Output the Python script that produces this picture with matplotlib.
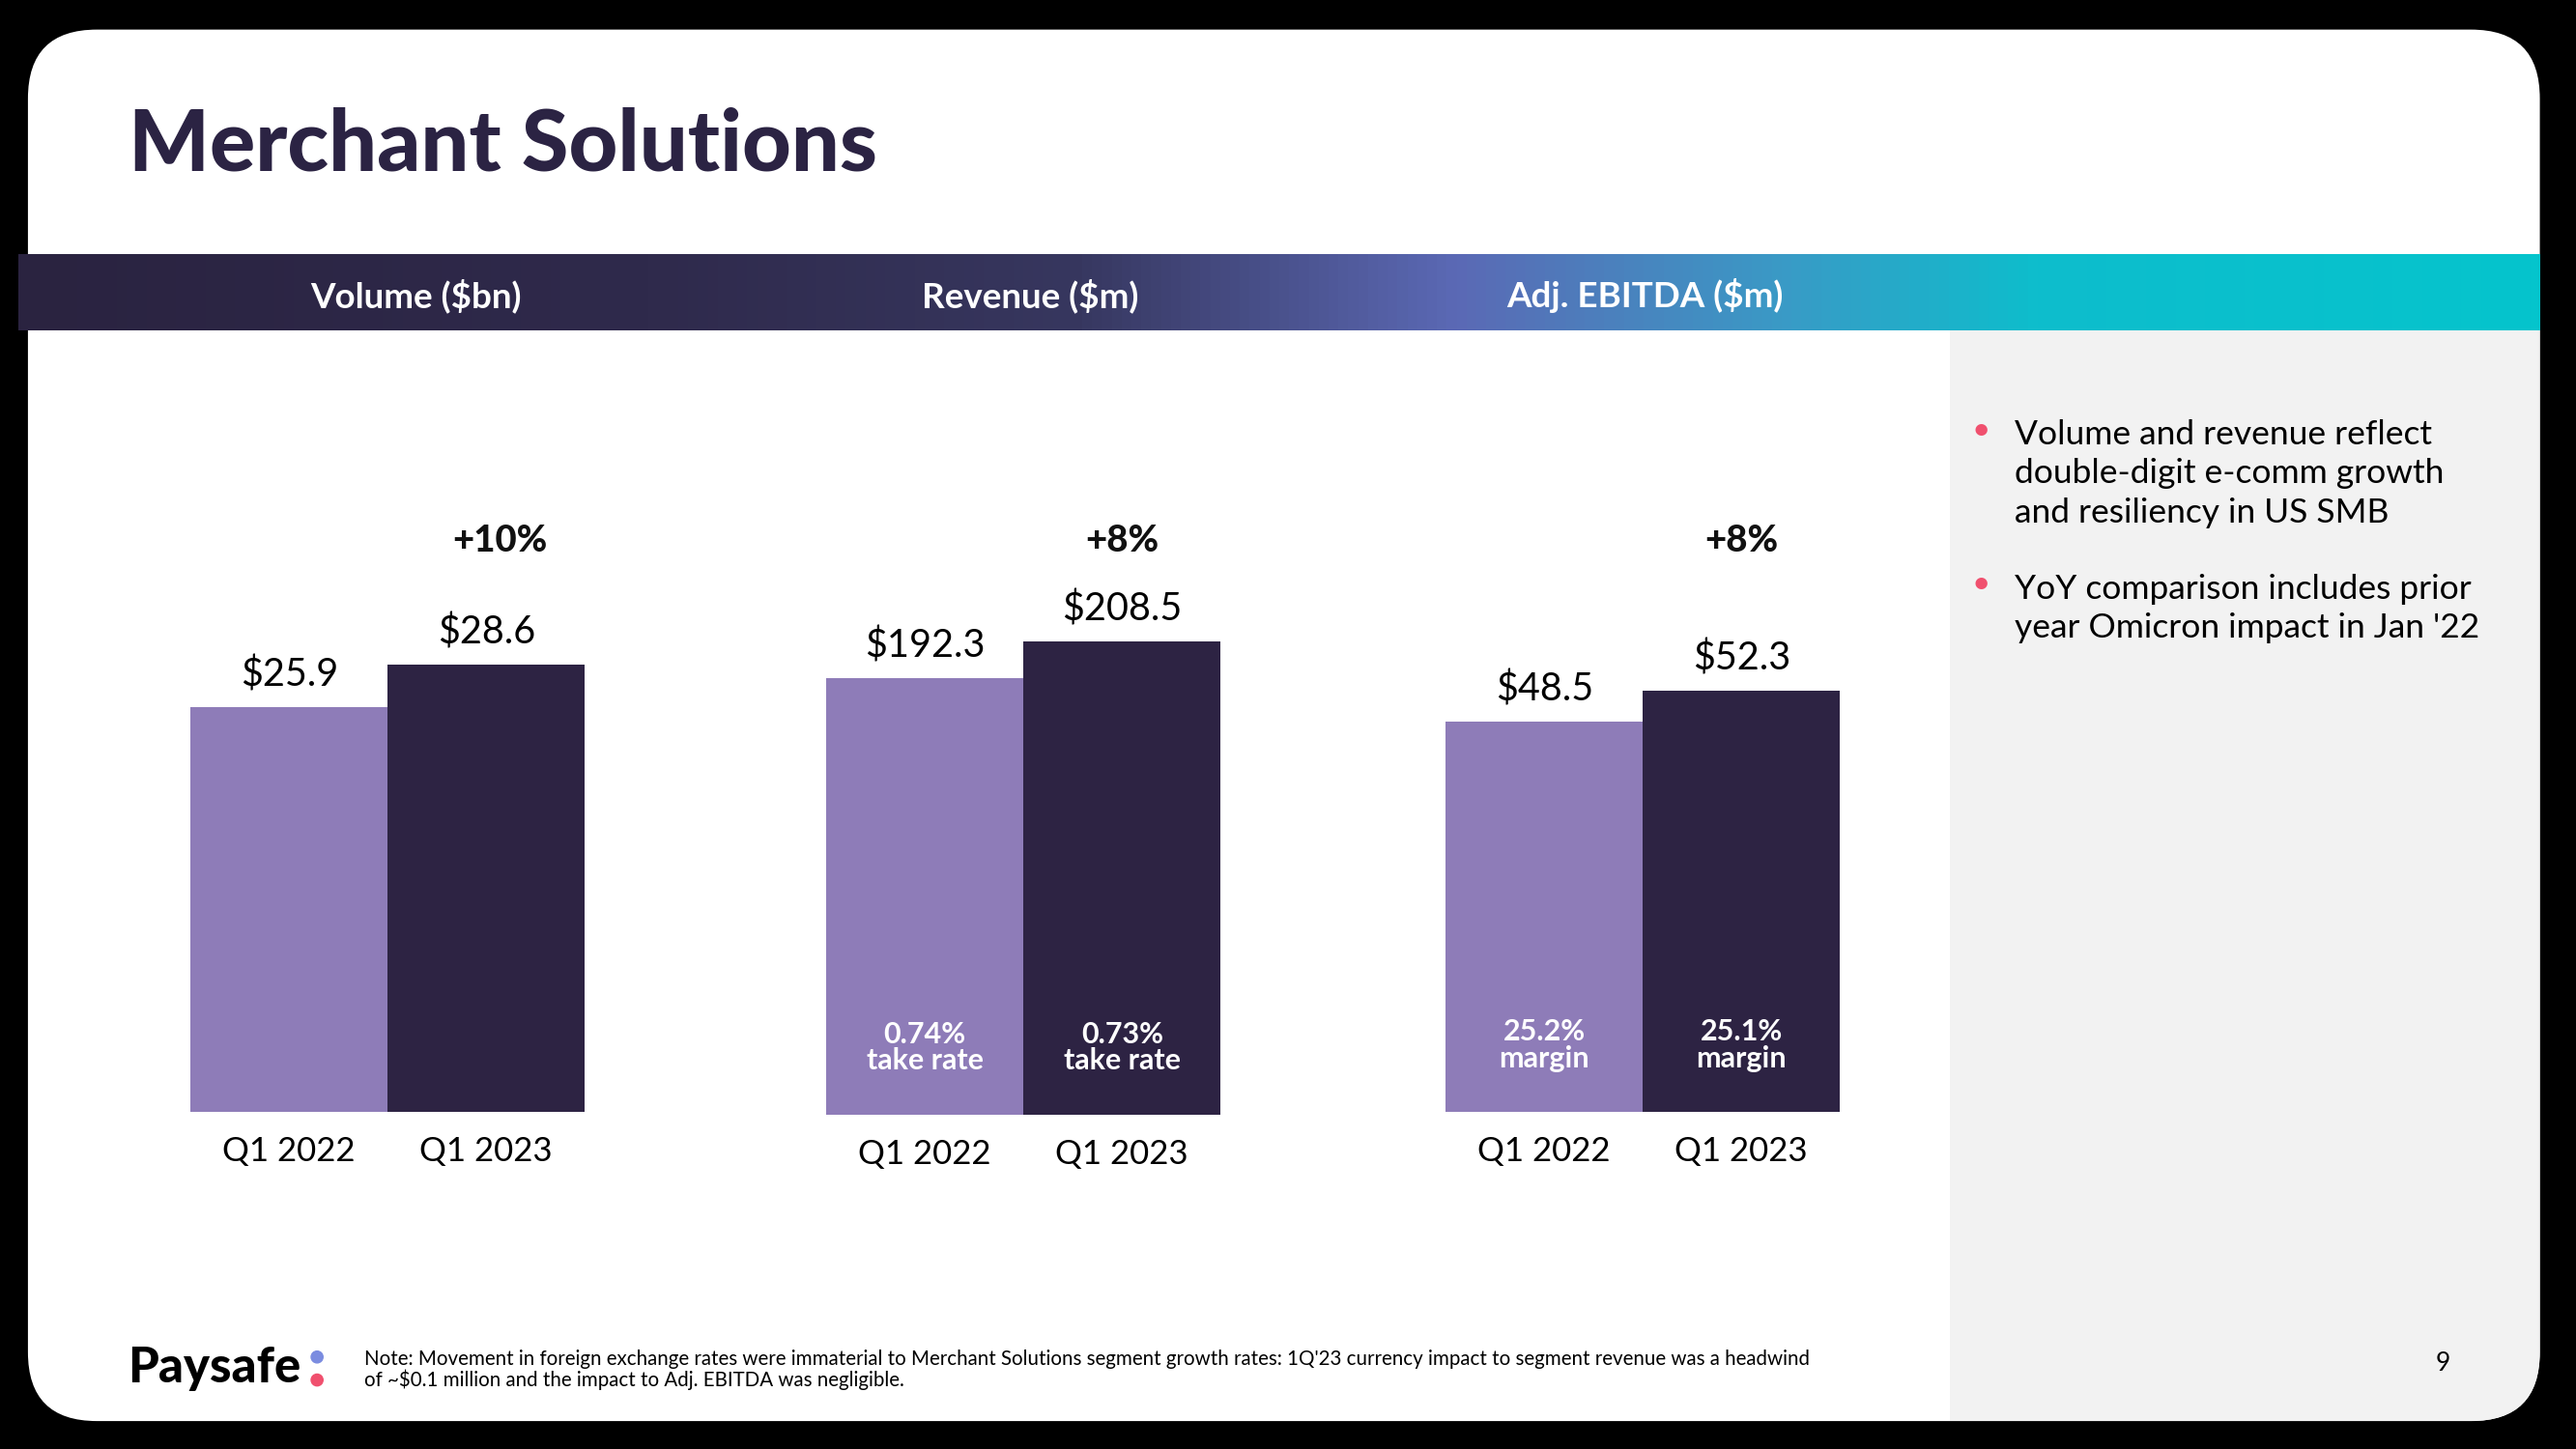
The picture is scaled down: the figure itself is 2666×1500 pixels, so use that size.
import matplotlib
matplotlib.use("Agg")
import matplotlib.pyplot as plt
import matplotlib.patches as mpatches
import matplotlib.transforms as mtransforms
from matplotlib.colors import LinearSegmentedColormap
import numpy as np

#===[ DATA ]===================================================================#
categorias = ["Q1 2022", "Q1 2023"]
volume = [25.9, 28.6]
receita = [192.3, 208.5]
ebitda = [48.5, 52.3]
crescimento = ["+10%", "+8%", "+8%"]
titulos_paineis = ["Volume ($bn)", "Revenue ($m)", "Adj. EBITDA ($m)"]
rotulos_receita = ["0.74%\ntake rate", "0.73%\ntake rate"]
rotulos_ebitda = ["25.2%\nmargin", "25.1%\nmargin"]
bullets = [
    "Volume and revenue reflect\ndouble-digit e-comm growth\nand resiliency in US SMB",
    "YoY comparison includes prior\nyear Omicron impact in Jan '22",
]
nota = ("Note: Movement in foreign exchange rates were immaterial to Merchant Solutions segment growth rates: "
        "1Q'23 currency impact to segment revenue was a headwind\n"
        "of ~$0.1 million and the impact to Adj. EBITDA was negligible.")

#===[ STYLE ]==================================================================#
W, H = 1568, 882          # layout grid (reference px)
ESCURO = "#2d2343"
CLARO = "#8e7cb8"
ROSA = "#f0506e"
CINZA = "#f2f2f2"
FONTE = "Lato"

plt.rcParams['font.family'] = [FONTE, 'DejaVu Sans']

fig = plt.figure(figsize=(26.66, 15), dpi=100, facecolor="black")

# background axes in reference pixel coordinates
bg = fig.add_axes([0, 0, 1, 1])
bg.set_xlim(0, W)
bg.set_ylim(H, 0)
bg.axis("off")

card = mpatches.FancyBboxPatch((17, 18), 1546 - 17, 865 - 18,
                               boxstyle="round,pad=0,rounding_size=42",
                               facecolor="white", edgecolor="none", zorder=0)
bg.add_patch(card)

painel = mpatches.Rectangle((1187, 201), 1546 - 1187, 865 - 201,
                            facecolor=CINZA, edgecolor="none", zorder=1)
bg.add_patch(painel)
painel.set_clip_path(card)

# gradient header band
cmap = LinearSegmentedColormap.from_list("faixa", [
    (0.0, "#2a2340"), (0.25, "#2f2a4c"), (0.42, "#37375f"),
    (0.57, "#5b69b5"), (0.70, "#3a9ac6"), (0.80, "#0ebdcc"), (1.0, "#05c4cc")])
grad = np.linspace(0, 1, 512).reshape(1, -1)
bg.imshow(grad, cmap=cmap, aspect="auto", extent=(11, 1546, 201, 155), zorder=2)
bg.set_xlim(0, W)
bg.set_ylim(H, 0)

for txt, cx in zip(titulos_paineis, [253, 627, 1001]):
    bg.text(cx, 180, txt, color="white", fontsize=26.5, fontweight="bold",
            ha="center", va="center", zorder=3)

bg.text(78, 89, "Merchant Solutions", color="#2b2343", fontsize=63.5,
        fontweight="black", ha="left", va="center", zorder=3)

# bullets
for txt, y in zip(bullets, [263, 357]):
    bg.text(1206, y - 1, "\u2022", color=ROSA, fontsize=24, ha="center", va="center", zorder=3)
    bg.text(1226, y - 8, txt, color="black", fontsize=25.5, ha="left", va="top",
            linespacing=1.33, zorder=3)

# footer
bg.text(78, 833, "Paysafe", color="black", fontsize=36.5, fontweight="black",
        ha="left", va="center", zorder=3)
bg.add_patch(mpatches.Circle((193, 826), 3.6, color="#7b8ce0", zorder=3))
bg.add_patch(mpatches.Circle((193, 840), 3.6, color=ROSA, zorder=3))
bg.text(222, 834, nota, color="black", fontsize=14.8, ha="left", va="center",
        linespacing=1.02, zorder=3)
bg.text(1487, 830, "9", color="black", fontsize=19, ha="center", va="center", zorder=3)

#===[ BARS ]===================================================================#
def eixo(x0, x1, ybase, ytop):
    return fig.add_axes([x0 / W, 1 - ybase / H, (x1 - x0) / W, (ybase - ytop) / H])

def barras(ax, valores, ymax, rotulos_dentro, cresc, dx=0.0):
    ax.set_facecolor("none")
    ax.bar(range(len(valores)), valores, width=1.0, color=[CLARO, ESCURO])
    ax.set_xlim(-0.5, 1.5)
    ax.set_ylim(0, ymax)
    for s in ax.spines.values():
        s.set_visible(False)
    ax.set_yticks([])
    ax.set_xticks(range(len(valores)))
    ax.set_xticklabels(categorias, fontsize=25)
    ax.tick_params(axis="x", length=0, pad=18)
    for i, v in enumerate(valores):
        ax.annotate(f"${v:.1f}", (i, v), xytext=(0, 24), textcoords="offset points",
                    ha="center", va="center", fontsize=28.5)
    if rotulos_dentro:
        for i, t in enumerate(rotulos_dentro):
            ax.annotate(t, (i, 0), xytext=(0, 50), textcoords="offset points",
                        ha="center", va="center", fontsize=22, fontweight="bold",
                        color="white", linespacing=0.98)
    trans = mtransforms.blended_transform_factory(ax.transData, fig.transFigure)
    ax.text(1 + dx, 1 - 329 / H, cresc, transform=trans, ha="center", va="center",
            fontsize=27.5, fontweight="black", color="#111111")

ax1 = eixo(116, 356, 677, 300)
barras(ax1, volume, 39.6, None, crescimento[0], dx=0.07)
ax2 = eixo(503, 743, 678.5, 300)
barras(ax2, receita, 274, rotulos_receita, crescimento[1])
ax3 = eixo(880, 1120, 677, 300)
barras(ax3, ebitda, 76.9, rotulos_ebitda, crescimento[2])

fig.savefig("out.png", dpi=100, facecolor=fig.get_facecolor())
